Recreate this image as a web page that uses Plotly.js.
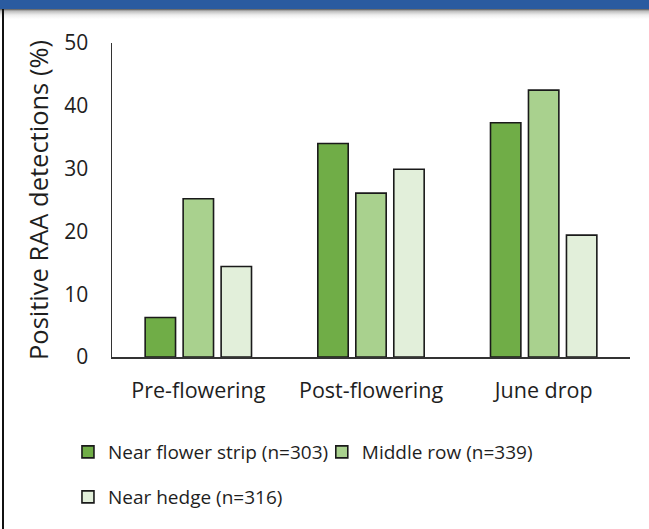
<!DOCTYPE html>
<html>
<head>
<meta charset="utf-8">
<script src="https://cdn.plot.ly/plotly-3.0.1.min.js"></script>
<style>
  html, body { margin: 0; padding: 0; background: #ffffff; }
  #wrap { position: relative; width: 649px; height: 529px; overflow: hidden; background: #fff; }
  #topbar { position: absolute; left: 0; top: 0; width: 649px; height: 9px; background: #2a5ba0; z-index: 2; }
  #shadow { position: absolute; left: 0; top: 9px; width: 649px; height: 10px; z-index: 2;
            background: linear-gradient(#555 0px, #bbb 2px, #eee 6px, rgba(255,255,255,0) 10px); }
  #leftborder { position: absolute; left: 2px; top: 9px; width: 2px; height: 520px; background: #111; z-index: 2; }
  #chart { position: absolute; left: 0; top: 0; width: 649px; height: 529px; }
</style>
</head>
<body>
<div id="wrap">
  <div id="chart"></div>
  <div id="topbar"></div>
  <div id="shadow"></div>
  <div id="leftborder"></div>
</div>
<script>
const categories = ["Pre-flowering", "Post-flowering", "June drop"];
const nearFlowerStrip = [6.3, 34.0, 37.3];
const middleRow = [25.2, 26.1, 42.5];
const nearHedge = [14.4, 29.9, 19.4];
const seriesNames = ["Near flower strip (n=303)", "Middle row (n=339)", "Near hedge (n=316)"];
const yTicks = [0, 10, 20, 30, 40, 50];

const FONT = "'Open Sans', Lato, sans-serif";
const TXT = "#1e1e1e";
const colors = ["#70ad47", "#a9d18e", "#e2efda"];

function bar(y, i, legendId) {
  return {
    type: "bar", x: categories, y: y, name: seriesNames[i],
    marker: { color: colors[i], line: { color: "#1a1a1a", width: 1.6 } },
    legend: legendId, hoverinfo: "x+y+name"
  };
}

const data = [
  bar(nearFlowerStrip, 0, "legend"),
  bar(middleRow, 1, "legend2"),
  bar(nearHedge, 2, "legend3")
];

const legendBase = {
  orientation: "h", xanchor: "left", yanchor: "middle",
  font: { family: FONT, size: 19, color: TXT },
  bgcolor: "rgba(0,0,0,0)", borderwidth: 0
};

const layout = {
  width: 649, height: 529,
  margin: { l: 112, r: 19, t: 43, b: 172 },
  paper_bgcolor: "rgba(0,0,0,0)", plot_bgcolor: "rgba(0,0,0,0)",
  barmode: "group", bargap: 0.34, bargroupgap: 0.2,
  font: { family: FONT, size: 19, color: TXT },
  xaxis: {
    showline: true, linecolor: "#333", linewidth: 1.5,
    showgrid: false, zeroline: false, ticks: "",
    ticklabelstandoff: 14,
    tickfont: { family: FONT, size: 21.5, color: TXT }
  },
  yaxis: {
    range: [0, 50], tickvals: yTicks, ticktext: yTicks.map(String),
    showline: true, linecolor: "#333", linewidth: 1.5,
    showgrid: false, zeroline: false, ticks: "",
    ticklabelstandoff: 18,
    tickfont: { family: FONT, size: 21, color: TXT },
    title: { text: "Positive RAA detections (%)", font: { family: FONT, size: 25.5, color: TXT }, standoff: 8 }
  },
  legend: Object.assign({}, legendBase, { x: -0.085, y: -0.3025 }),
  legend2: Object.assign({}, legendBase, { x: 0.405, y: -0.3025 }),
  legend3: Object.assign({}, legendBase, { x: -0.085, y: -0.446 }),
  showlegend: true
};

Plotly.newPlot("chart", data, layout, { displayModeBar: false, staticPlot: true });
</script>
</body>
</html>
